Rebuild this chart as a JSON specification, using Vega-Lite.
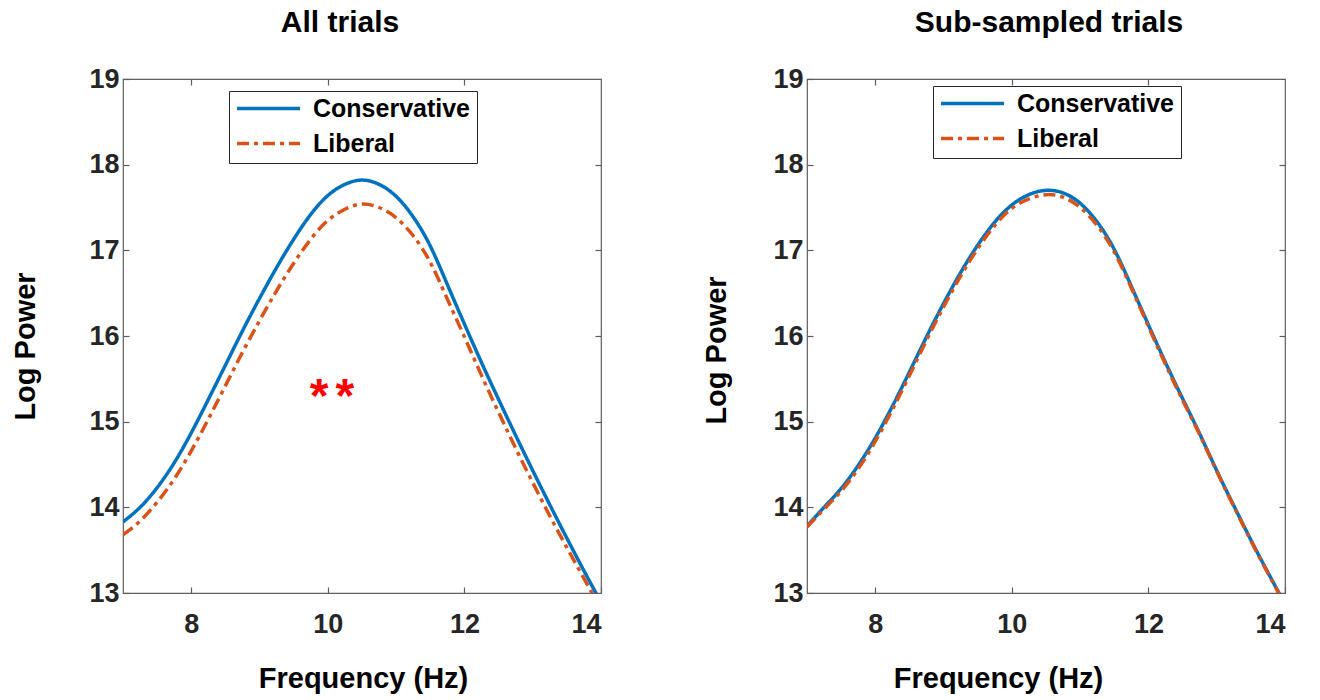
{
  "$schema": "https://vega.github.io/schema/vega-lite/v6.json",
  "background": "white",
  "padding": {"left": 10, "top": 7, "right": 5, "bottom": 5},
  "config": {
    "font": "Liberation Sans",
    "view": {"stroke": "#5e5e5e", "strokeWidth": 1.2},
    "axis": {
      "domain": false, "grid": false, "tickColor": "#5e5e5e", "tickSize": -6, "tickWidth": 1.2,
      "labelFont": "Liberation Sans", "labelFontSize": 27, "labelFontWeight": "bold", "labelColor": "#262626",
      "titleFont": "Liberation Sans", "titleFontSize": 29, "titleFontWeight": "bold", "titleColor": "#000000"
    },
    "title": {"font": "Liberation Sans", "fontSize": 30, "fontWeight": "bold", "color": "#000000", "baseline": "alphabetic", "offset": 27},
    "legend": {
      "orient": "none", "title": null, "fillColor": "white", "strokeColor": "#262626", "padding": 6,
      "labelFont": "Liberation Sans", "labelFontSize": 25, "labelFontWeight": "bold", "labelColor": "#000000", "labelLimit": 400,
      "symbolSize": 3969, "symbolStrokeWidth": 3.5, "labelOffset": 11, "rowPadding": 9, "clipHeight": 23
    }
  },
  "datasets": {
    "all": [
      {"freq": 7, "power": 13.83, "group": "Conservative"},
      {"freq": 7.25, "power": 14.0, "group": "Conservative"},
      {"freq": 7.5, "power": 14.23, "group": "Conservative"},
      {"freq": 7.75, "power": 14.52, "group": "Conservative"},
      {"freq": 8, "power": 14.87, "group": "Conservative"},
      {"freq": 8.25, "power": 15.26, "group": "Conservative"},
      {"freq": 8.5, "power": 15.66, "group": "Conservative"},
      {"freq": 8.75, "power": 16.06, "group": "Conservative"},
      {"freq": 9, "power": 16.44, "group": "Conservative"},
      {"freq": 9.25, "power": 16.8, "group": "Conservative"},
      {"freq": 9.5, "power": 17.13, "group": "Conservative"},
      {"freq": 9.75, "power": 17.42, "group": "Conservative"},
      {"freq": 10, "power": 17.64, "group": "Conservative"},
      {"freq": 10.25, "power": 17.77, "group": "Conservative"},
      {"freq": 10.5, "power": 17.82, "group": "Conservative"},
      {"freq": 10.75, "power": 17.77, "group": "Conservative"},
      {"freq": 11, "power": 17.63, "group": "Conservative"},
      {"freq": 11.25, "power": 17.39, "group": "Conservative"},
      {"freq": 11.5, "power": 17.05, "group": "Conservative"},
      {"freq": 11.75, "power": 16.6, "group": "Conservative"},
      {"freq": 12, "power": 16.14, "group": "Conservative"},
      {"freq": 12.25, "power": 15.69, "group": "Conservative"},
      {"freq": 12.5, "power": 15.26, "group": "Conservative"},
      {"freq": 12.75, "power": 14.84, "group": "Conservative"},
      {"freq": 13, "power": 14.43, "group": "Conservative"},
      {"freq": 13.25, "power": 14.03, "group": "Conservative"},
      {"freq": 13.5, "power": 13.64, "group": "Conservative"},
      {"freq": 13.75, "power": 13.26, "group": "Conservative"},
      {"freq": 14, "power": 12.89, "group": "Conservative"},
      {"freq": 7, "power": 13.68, "group": "Liberal"},
      {"freq": 7.25, "power": 13.84, "group": "Liberal"},
      {"freq": 7.5, "power": 14.06, "group": "Liberal"},
      {"freq": 7.75, "power": 14.33, "group": "Liberal"},
      {"freq": 8, "power": 14.66, "group": "Liberal"},
      {"freq": 8.25, "power": 15.03, "group": "Liberal"},
      {"freq": 8.5, "power": 15.42, "group": "Liberal"},
      {"freq": 8.75, "power": 15.81, "group": "Liberal"},
      {"freq": 9, "power": 16.18, "group": "Liberal"},
      {"freq": 9.25, "power": 16.53, "group": "Liberal"},
      {"freq": 9.5, "power": 16.85, "group": "Liberal"},
      {"freq": 9.75, "power": 17.13, "group": "Liberal"},
      {"freq": 10, "power": 17.35, "group": "Liberal"},
      {"freq": 10.25, "power": 17.48, "group": "Liberal"},
      {"freq": 10.5, "power": 17.54, "group": "Liberal"},
      {"freq": 10.75, "power": 17.5, "group": "Liberal"},
      {"freq": 11, "power": 17.38, "group": "Liberal"},
      {"freq": 11.25, "power": 17.17, "group": "Liberal"},
      {"freq": 11.5, "power": 16.86, "group": "Liberal"},
      {"freq": 11.75, "power": 16.43, "group": "Liberal"},
      {"freq": 12, "power": 15.99, "group": "Liberal"},
      {"freq": 12.25, "power": 15.54, "group": "Liberal"},
      {"freq": 12.5, "power": 15.11, "group": "Liberal"},
      {"freq": 12.75, "power": 14.69, "group": "Liberal"},
      {"freq": 13, "power": 14.29, "group": "Liberal"},
      {"freq": 13.25, "power": 13.9, "group": "Liberal"},
      {"freq": 13.5, "power": 13.53, "group": "Liberal"},
      {"freq": 13.75, "power": 13.17, "group": "Liberal"},
      {"freq": 14, "power": 12.81, "group": "Liberal"}
    ],
    "sub": [
      {"freq": 7, "power": 13.78, "group": "Conservative"},
      {"freq": 7.25, "power": 14.0, "group": "Conservative"},
      {"freq": 7.5, "power": 14.22, "group": "Conservative"},
      {"freq": 7.75, "power": 14.49, "group": "Conservative"},
      {"freq": 8, "power": 14.81, "group": "Conservative"},
      {"freq": 8.25, "power": 15.18, "group": "Conservative"},
      {"freq": 8.5, "power": 15.58, "group": "Conservative"},
      {"freq": 8.75, "power": 15.99, "group": "Conservative"},
      {"freq": 9, "power": 16.38, "group": "Conservative"},
      {"freq": 9.25, "power": 16.74, "group": "Conservative"},
      {"freq": 9.5, "power": 17.06, "group": "Conservative"},
      {"freq": 9.75, "power": 17.33, "group": "Conservative"},
      {"freq": 10, "power": 17.53, "group": "Conservative"},
      {"freq": 10.25, "power": 17.65, "group": "Conservative"},
      {"freq": 10.5, "power": 17.7, "group": "Conservative"},
      {"freq": 10.75, "power": 17.67, "group": "Conservative"},
      {"freq": 11, "power": 17.55, "group": "Conservative"},
      {"freq": 11.25, "power": 17.33, "group": "Conservative"},
      {"freq": 11.5, "power": 17.01, "group": "Conservative"},
      {"freq": 11.75, "power": 16.58, "group": "Conservative"},
      {"freq": 12, "power": 16.13, "group": "Conservative"},
      {"freq": 12.25, "power": 15.69, "group": "Conservative"},
      {"freq": 12.5, "power": 15.27, "group": "Conservative"},
      {"freq": 12.75, "power": 14.86, "group": "Conservative"},
      {"freq": 13, "power": 14.43, "group": "Conservative"},
      {"freq": 13.25, "power": 14.02, "group": "Conservative"},
      {"freq": 13.5, "power": 13.62, "group": "Conservative"},
      {"freq": 13.75, "power": 13.24, "group": "Conservative"},
      {"freq": 14, "power": 12.87, "group": "Conservative"},
      {"freq": 7, "power": 13.77, "group": "Liberal"},
      {"freq": 7.25, "power": 13.98, "group": "Liberal"},
      {"freq": 7.5, "power": 14.19, "group": "Liberal"},
      {"freq": 7.75, "power": 14.45, "group": "Liberal"},
      {"freq": 8, "power": 14.77, "group": "Liberal"},
      {"freq": 8.25, "power": 15.14, "group": "Liberal"},
      {"freq": 8.5, "power": 15.54, "group": "Liberal"},
      {"freq": 8.75, "power": 15.95, "group": "Liberal"},
      {"freq": 9, "power": 16.34, "group": "Liberal"},
      {"freq": 9.25, "power": 16.7, "group": "Liberal"},
      {"freq": 9.5, "power": 17.02, "group": "Liberal"},
      {"freq": 9.75, "power": 17.29, "group": "Liberal"},
      {"freq": 10, "power": 17.49, "group": "Liberal"},
      {"freq": 10.25, "power": 17.6, "group": "Liberal"},
      {"freq": 10.5, "power": 17.65, "group": "Liberal"},
      {"freq": 10.75, "power": 17.62, "group": "Liberal"},
      {"freq": 11, "power": 17.5, "group": "Liberal"},
      {"freq": 11.25, "power": 17.29, "group": "Liberal"},
      {"freq": 11.5, "power": 16.98, "group": "Liberal"},
      {"freq": 11.75, "power": 16.56, "group": "Liberal"},
      {"freq": 12, "power": 16.11, "group": "Liberal"},
      {"freq": 12.25, "power": 15.67, "group": "Liberal"},
      {"freq": 12.5, "power": 15.25, "group": "Liberal"},
      {"freq": 12.75, "power": 14.85, "group": "Liberal"},
      {"freq": 13, "power": 14.42, "group": "Liberal"},
      {"freq": 13.25, "power": 14.01, "group": "Liberal"},
      {"freq": 13.5, "power": 13.61, "group": "Liberal"},
      {"freq": 13.75, "power": 13.23, "group": "Liberal"},
      {"freq": 14, "power": 12.86, "group": "Liberal"}
    ],
    "sig": [
      {"freq": 9.87, "power": 15.4, "label": "*"},
      {"freq": 10.25, "power": 15.4, "label": "*"}
    ]
  },
  "spacing": 206,
  "bounds": "flush",
  "resolve": {"legend": {"color": "independent", "strokeDash": "independent"}},
  "hconcat": [
    {
      "width": 478, "height": 514,
      "title": {"text": "All trials", "dx": -22},
      "resolve": {"axis": {"x": "independent", "y": "independent"}},
      "layer": [
        {
          "data": {"name": "all"},
          "mark": {"type": "line", "strokeWidth": 3.5, "clip": true, "interpolate": "natural"},
          "encoding": {
            "x": {"field": "freq", "type": "quantitative", "scale": {"domain": [7, 14], "nice": false, "zero": false},
                  "axis": {"title": "Frequency (Hz)", "values": [8, 10, 12, 14], "labelPadding": 24, "titleX": 240, "titleY": 94, "titleBaseline": "alphabetic"}},
            "y": {"field": "power", "type": "quantitative", "scale": {"domain": [13, 19], "nice": false, "zero": false},
                  "axis": {"title": "Log Power", "values": [13, 14, 15, 16, 17, 18, 19], "labelPadding": 10, "titleX": -89, "titleY": 267, "titleBaseline": "alphabetic"}},
            "color": {"field": "group", "type": "nominal", "scale": {"domain": ["Conservative", "Liberal"], "range": ["#0072BD", "#D95319"]},
                      "legend": {"legendX": 106, "legendY": 12}},
            "strokeDash": {"field": "group", "type": "nominal", "scale": {"domain": ["Conservative", "Liberal"], "range": [[1, 0], [12, 5, 4, 5]]},
                           "legend": {"legendX": 106, "legendY": 12}}
          }
        },
        {
          "data": {"name": "sig"},
          "mark": {"type": "text", "color": "#ff0000", "fontSize": 48, "fontWeight": "bold", "baseline": "alphabetic", "align": "center", "dy": 25},
          "encoding": {
            "x": {"field": "freq", "type": "quantitative", "scale": {"domain": [7, 14], "nice": false, "zero": false}, "axis": null},
            "y": {"field": "power", "type": "quantitative", "scale": {"domain": [13, 19], "nice": false, "zero": false}, "axis": null},
            "text": {"field": "label"}
          }
        },
        {
          "data": {"name": "all"},
          "mark": {"type": "line", "opacity": 0},
          "encoding": {
            "x": {"field": "freq", "type": "quantitative", "scale": {"domain": [7, 14], "nice": false, "zero": false},
                  "axis": {"orient": "top", "labels": false, "title": null, "values": [8, 10, 12]}},
            "y": {"field": "power", "type": "quantitative", "scale": {"domain": [13, 19], "nice": false, "zero": false},
                  "axis": {"orient": "right", "labels": false, "title": null, "values": [14, 15, 16, 17, 18]}}
          }
        }
      ]
    },
    {
      "width": 478, "height": 514,
      "title": {"text": "Sub-sampled trials", "dx": 3},
      "resolve": {"axis": {"x": "independent", "y": "independent"}},
      "layer": [
        {
          "data": {"name": "sub"},
          "mark": {"type": "line", "strokeWidth": 3.5, "clip": true, "interpolate": "natural"},
          "encoding": {
            "x": {"field": "freq", "type": "quantitative", "scale": {"domain": [7, 14], "nice": false, "zero": false},
                  "axis": {"title": "Frequency (Hz)", "values": [8, 10, 12, 14], "labelPadding": 24, "titleX": 191, "titleY": 94, "titleBaseline": "alphabetic"}},
            "y": {"field": "power", "type": "quantitative", "scale": {"domain": [13, 19], "nice": false, "zero": false},
                  "axis": {"title": "Log Power", "values": [13, 14, 15, 16, 17, 18, 19], "labelPadding": 10, "titleX": -82, "titleY": 271, "titleBaseline": "alphabetic"}},
            "color": {"field": "group", "type": "nominal", "scale": {"domain": ["Conservative", "Liberal"], "range": ["#0072BD", "#D95319"]},
                      "legend": {"legendX": 126, "legendY": 7}},
            "strokeDash": {"field": "group", "type": "nominal", "scale": {"domain": ["Conservative", "Liberal"], "range": [[1, 0], [12, 5, 4, 5]]},
                           "legend": {"legendX": 126, "legendY": 7}}
          }
        },
        {
          "data": {"name": "sub"},
          "mark": {"type": "line", "opacity": 0},
          "encoding": {
            "x": {"field": "freq", "type": "quantitative", "scale": {"domain": [7, 14], "nice": false, "zero": false},
                  "axis": {"orient": "top", "labels": false, "title": null, "values": [8, 10, 12]}},
            "y": {"field": "power", "type": "quantitative", "scale": {"domain": [13, 19], "nice": false, "zero": false},
                  "axis": {"orient": "right", "labels": false, "title": null, "values": [14, 15, 16, 17, 18]}}
          }
        }
      ]
    }
  ]
}
